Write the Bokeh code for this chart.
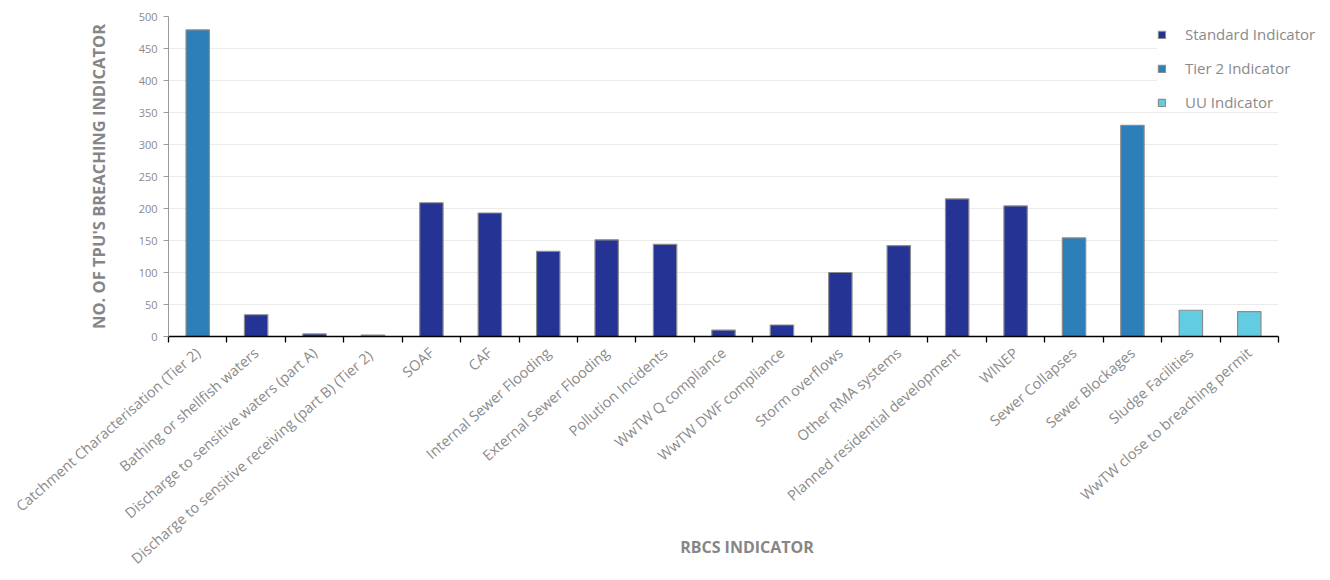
from bokeh.plotting import figure
from bokeh.models import ColumnDataSource, Range1d, FixedTicker, Legend, LegendItem
from bokeh.embed import file_html
from bokeh.resources import INLINE

categories = [
    "Catchment Characterisation (Tier 2)",
    "Bathing or shellfish waters",
    "Discharge to sensitive waters (part A)",
    "Discharge to sensitive receiving  (part B) (Tier 2)",
    "SOAF",
    "CAF",
    "Internal Sewer Flooding",
    "External Sewer Flooding",
    "Pollution Incidents",
    "WwTW Q compliance",
    "WwTW DWF compliance",
    "Storm overflows",
    "Other RMA systems",
    "Planned residential development",
    "WINEP",
    "Sewer Collapses",
    "Sewer Blockages",
    "Sludge Facilities",
    "WwTW close to breaching permit",
]
counts = [479, 34, 4, 2, 209, 193, 133, 151, 144, 10, 18, 100, 142, 215, 204, 154, 330, 41, 39]
groups = ["Tier 2 Indicator", "Standard Indicator", "Standard Indicator", "Tier 2 Indicator",
          "Standard Indicator", "Standard Indicator", "Standard Indicator", "Standard Indicator",
          "Standard Indicator", "Standard Indicator", "Standard Indicator", "Standard Indicator",
          "Standard Indicator", "Standard Indicator", "Standard Indicator", "Tier 2 Indicator",
          "Tier 2 Indicator", "UU Indicator", "UU Indicator"]
legend_order = ["Standard Indicator", "Tier 2 Indicator", "UU Indicator"]
group_colors = {"Standard Indicator": "#253494", "Tier 2 Indicator": "#2c7fb8", "UU Indicator": "#62cde2"}
y_ticks = [0, 50, 100, 150, 200, 250, 300, 350, 400, 450, 500]

FONT = "Open Sans"
GREY = "#8a8a8a"

n = len(categories)
centers = [i + 0.5 for i in range(n)]
bounds = [float(i) for i in range(n + 1)]

W, H = 1325, 578
LEFT, TOP, BOTTOM = 168, 16, 242
AXIS_RIGHT = 1278  # where the category axis ends (pixels)
x_end = n * (W - LEFT) / (AXIS_RIGHT - LEFT)

p = figure(width=W, height=H, output_backend="svg", toolbar_location=None,
           x_range=Range1d(0, x_end), y_range=Range1d(0, 500),
           min_border_left=LEFT, min_border_right=0, min_border_top=TOP, min_border_bottom=BOTTOM)
p.outline_line_color = None
p.background_fill_color = "white"

items = []
for g in legend_order:
    xs = [centers[i] for i in range(n) if groups[i] == g]
    ys = [counts[i] for i in range(n) if groups[i] == g]
    src = ColumnDataSource(dict(x=xs, top=ys))
    r = p.vbar(x="x", top="top", width=0.4, bottom=0, source=src,
               fill_color=group_colors[g], line_color="#8c8c8c", line_width=1.2)
    items.append(LegendItem(label=g, renderers=[r]))

# grid
p.xgrid.grid_line_color = None
p.ygrid.grid_line_color = "#ebebeb"
p.ygrid.grid_line_width = 1.2
p.ygrid.ticker = FixedTicker(ticks=y_ticks)
p.ygrid.cross_bounds = (0, n)

# y axis
ya = p.yaxis[0]
ya.ticker = FixedTicker(ticks=y_ticks)
ya.axis_line_color = "#9a9a9a"
ya.major_tick_line_color = "#9a9a9a"
ya.major_tick_out = 5
ya.major_tick_in = 0
ya.minor_tick_line_color = None
ya.major_label_text_font = FONT
ya.major_label_text_font_size = "11px"
ya.major_label_text_color = GREY
ya.major_label_standoff = 6
ya.axis_label = "NO. OF TPU'S BREACHING INDICATOR"
ya.axis_label_text_font = FONT
ya.axis_label_text_font_style = "bold"
ya.axis_label_text_font_size = "16.5px"
ya.axis_label_text_color = "#868686"
ya.axis_label_standoff = 26

# x axis: labels at centres, tick marks at boundaries (minor ticks)
xa = p.xaxis[0]
xa.bounds = (0, n)
xa.ticker = FixedTicker(ticks=centers, minor_ticks=bounds)
xa.major_label_overrides = {c: lab for c, lab in zip(centers, categories)}
xa.major_label_orientation = 0.72
xa.major_label_text_font = FONT
xa.major_label_text_font_size = "14.5px"
xa.major_label_text_color = GREY
xa.major_label_standoff = 8
xa.major_tick_out = 0
xa.major_tick_in = 0
xa.minor_tick_out = 6
xa.minor_tick_in = 0
xa.minor_tick_line_color = "black"
xa.minor_tick_line_width = 1.3
xa.axis_line_color = "black"
xa.axis_line_width = 1.5
xa.axis_label = "RBCS INDICATOR"
xa.axis_label_text_font = FONT
xa.axis_label_text_font_style = "bold"
xa.axis_label_text_font_size = "16px"
xa.axis_label_text_color = "#868686"
xa.axis_label_standoff = -42

legend = Legend(items=items, location=(989, 224), background_fill_color="white",
                background_fill_alpha=1.0, border_line_color=None,
                glyph_width=9, glyph_height=9, label_height=20, spacing=14,
                padding=8, margin=0, label_standoff=19,
                label_text_font=FONT, label_text_font_size="15px", label_text_color=GREY)
p.add_layout(legend)

open("out.html", "w").write(file_html(p, INLINE))
